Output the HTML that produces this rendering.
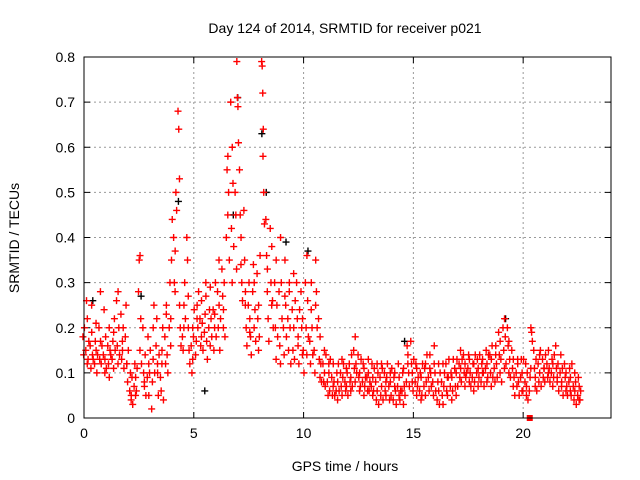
<!DOCTYPE html>
<html><head><meta charset="utf-8"><style>
body{margin:0;background:#fff}
svg{display:block;font-family:"Liberation Sans",sans-serif}
</style></head><body>
<svg id="chart" width="640" height="480" viewBox="0 0 640 480">
<rect width="640" height="480" fill="#fff"/>
<text x="345" y="33" font-size="14" text-anchor="middle">Day 124 of 2014, SRMTID for receiver p021</text>
<text transform="translate(19,238) rotate(-90)" font-size="14" text-anchor="middle">SRMTID / TECUs</text>
<text x="345" y="471" font-size="14" text-anchor="middle">GPS time / hours</text>
<g id="grid"></g>
<g id="ticks"></g>
<g id="marks"></g>
<rect x="84" y="57" width="527" height="361" fill="none" stroke="#000" stroke-width="1"/>
</svg>
<script>
const xTicks=[0,5,10,15,20];
const yTicks=[0,0.1,0.2,0.3,0.4,0.5,0.6,0.7,0.8];
const yTickLabels=["0","0.1","0.2","0.3","0.4","0.5","0.6","0.7","0.8"];
const tStart=0, tStep=0.1;
const redValues=[
[.18,.14,.2],[.15,.26,.12],[.22,.13,.17],[.16,.11,.25],[.19,.14,.13],[.12,.17,.21],[.15,.1,.14],[.2,.13,.28],[.17,.12,.16],[.14,.24,.1],
[.13,.18,.11],[.16,.12,.2],[.09,.15,.14],[.13,.17,.11],[.19,.22,.15],[.26,.16,.12],[.28,.2,.14],[.23,.13,.17],[.15,.2,.11],[.18,.25,.12],
[.12,.08,.15],[.06,.1,.04],[.05,.09,.03],[.07,.12,.05],[.09,.06,.11],[.28,.35,.15],[.36,.22,.12],[.2,.1,.08],[.07,.14,.05],[.09,.18,.12],
[.05,.1,.15],[.02,.08,.13],[.2,.25,.1],[.16,.22,.12],[.1,.05,.14],[.09,.06,.12],[.15,.2,.04],[.18,.12,.23],[.25,.14,.1],[.2,.3,.16],
[.22,.35,.44],[.4,.3,.28],[.37,.5,.46],[.68,.64,.53],[.25,.2,.16],[.18,.15,.2],[.25,.3,.22],[.4,.35,.27],[.2,.15,.12],[.16,.1,.13],
[.2,.18,.24],[.14,.17,.22],[.25,.2,.28],[.22,.16,.18],[.26,.21,.15],[.19,.23,.3],[.27,.17,.13],[.2,.24,.16],[.29,.22,.18],[.24,.15,.2],
[.23,.3,.18],[.28,.2,.35],[.25,.15,.22],[.33,.27,.2],[.24,.3,.18],[.4,.55,.45],[.58,.5,.35],[.7,.42,.3],[.6,.52,.38],[.5,.45,.33],
[.79,.71,.69,.61],[.55,.45,.34],[.4,.3,.26],[.46,.35,.25],[.28,.2,.16],[.25,.3,.19],[.22,.18,.14],[.28,.34,.2],[.3,.24,.17],[.32,.22,.15],
[.25,.18,.36],[.79,.78,.72,.64],[.58,.5,.43],[.44,.36,.28],[.33,.22,.17],[.42,.3,.25],[.38,.26,.2],[.3,.2,.13],[.35,.25,.18],[.28,.16,.12],
[.4,.3,.22],[.2,.14,.27],[.35,.25,.18],[.22,.15,.28],[.3,.2,.12],[.24,.15,.32],[.2,.13,.26],[.3,.22,.16],[.18,.12,.24],[.28,.2,.14],
[.22,.15,.1],[.3,.2,.14],[.36,.26,.18],[.17,.12,.24],[.3,.2,.14],[.15,.1,.25],[.35,.28,.2],[.22,.13,.09],[.18,.12,.08],[.12,.08,.15],
[.1,.07,.14],[.08,.05,.12],[.1,.06,.13],[.09,.05,.07],[.12,.08,.05],[.06,.1,.04],[.08,.12,.06],[.1,.07,.13],[.05,.09,.12],[.08,.06,.11],
[.07,.1,.05],[.12,.08,.06],[.09,.14,.07],[.15,.11,.08],[.18,.12,.1],[.14,.09,.06],[.1,.07,.13],[.08,.12,.05],[.11,.07,.09],[.09,.06,.13],
[.1,.06,.08],[.07,.12,.05],[.09,.06,.11],[.08,.04,.12],[.06,.1,.03],[.09,.05,.12],[.07,.11,.04],[.1,.06,.08],[.05,.09,.12],[.07,.04,.1],
[.08,.05,.11],[.04,.09,.07],[.1,.06,.03],[.07,.12,.05],[.09,.04,.06],[.06,.1,.03],[.11,.07,.05],[.08,.16,.12],[.14,.1,.07],[.17,.12,.08],
[.1,.06,.13],[.08,.12,.05],[.11,.07,.09],[.06,.1,.04],[.09,.05,.12],[.07,.11,.05],[.12,.08,.14],[.09,.06,.11],[.14,.1,.07],[.08,.05,.12],
[.16,.1,.06],[.04,.08,.12],[.06,.03,.1],[.08,.05,.12],[.03,.07,.1],[.12,.06,.09],[.05,.09,.13],[.07,.1,.04],[.09,.06,.13],[.11,.07,.05],
[.1,.13,.07],[.12,.09,.15],[.11,.08,.13],[.14,.1,.07],[.12,.09,.1],[.11,.14,.08],[.13,.1,.07],[.09,.12,.06],[.12,.08,.14],[.1,.13,.07],
[.11,.09,.14],[.08,.12,.1],[.13,.1,.07],[.11,.15,.08],[.12,.09,.14],[.14,.1,.07],[.13,.16,.09],[.11,.08,.14],[.16,.12,.09],[.19,.14,.1],
[.17,.13,.08],[.2,.15,.11],[.22,.18,.12],[.2,.16,.1],[.17,.13,.09],[.15,.11,.07],[.13,.09,.05],[.1,.07,.13],[.12,.08,.05],[.09,.13,.06],
[.1,.06,.13],[.08,.12,.05],[.07,.1,.04],[.06,.09,.11],[.2,.19,.17],[.15,.11,.07],[.09,.13,.06],[.12,.08,.14],[.1,.15,.07],[.13,.09,.11],
[.11,.08,.14],[.12,.09,.1],[.15,.11,.08],[.1,.13,.07],[.12,.09,.14],[.16,.11,.08],[.09,.12,.06],[.1,.14,.07],[.08,.11,.05],[.12,.09,.06],
[.1,.07,.05],[.08,.11,.06],[.09,.05,.12],[.07,.04,.1],[.06,.08,.03],[.05,.09,.04],[.07,.04,.06]
];
const blackTimes=[0.4,2.6,4.3,5.5,6.8,7.0,8.1,8.3,9.2,10.2,14.6,19.2];
const blackValues=[0.26,0.27,0.48,0.06,0.45,0.71,0.63,0.5,0.39,0.37,0.17,0.22];
const squareTimes=[20.3];
const squareValues=[0];

const X0=84,X1=611,Y0=418,Y1=57,XMAX=24,YMAX=0.8;
const sx=t=>X0+t/XMAX*(X1-X0);
const sy=v=>Y0-v/YMAX*(Y0-Y1);
const NS="http://www.w3.org/2000/svg";
const grid=document.getElementById('grid'),ticks=document.getElementById('ticks'),marks=document.getElementById('marks');
function mk(tag,attrs,parent){const e=document.createElementNS(NS,tag);for(const k in attrs)e.setAttribute(k,attrs[k]);parent.appendChild(e);return e;}
xTicks.forEach(t=>{
  const x=sx(t);
  if(t>0){const g=mk('line',{x1:x,x2:x,y1:Y1,y2:Y0,stroke:'#999','stroke-dasharray':'2,3'},grid);
  
  }
  mk('line',{x1:x,x2:x,y1:Y0,y2:Y0-6,stroke:'#000'},ticks);
  mk('line',{x1:x,x2:x,y1:Y1,y2:Y1+6,stroke:'#000'},ticks);
  const l=mk('text',{x:x,y:Y0+20,'font-size':14,'text-anchor':'middle'},ticks);l.textContent=t;
  
  
});
yTicks.forEach((v,i)=>{
  const y=sy(v);
  if(v>0&&v<YMAX){const g=mk('line',{x1:X0,x2:X1,y1:y,y2:y,stroke:'#999','stroke-dasharray':'2,3'},grid);
  
  }
  mk('line',{x1:X0,x2:X0+6,y1:y,y2:y,stroke:'#000'},ticks);
  mk('line',{x1:X1,x2:X1-6,y1:y,y2:y,stroke:'#000'},ticks);
  const l=mk('text',{x:X0-9,y:y+5,'font-size':14,'text-anchor':'end'},ticks);l.textContent=yTickLabels[i];
  
  
});
function plus(t,v,color,name){
  const x=sx(t),y=sy(v);
  const p=mk('path',{d:`M${x-3.5},${y}h7M${x},${y-3.5}v7`,stroke:color,'stroke-width':1.4,fill:'none'},marks);
  
  
}
blackValues.forEach((v,i)=>plus(blackTimes[i],v,'#000','black-point'));
redValues.forEach((arr,i)=>{const t=tStart+i*tStep;arr.forEach((v,j)=>plus(t+(j-1)*tStep/arr.length*1.0+((i%2)?0.015:-0.015),v,'#f00','red-point'));});
squareValues.forEach((v,i)=>{const r=mk('rect',{x:sx(squareTimes[i])-3,y:sy(v)-3,width:6,height:6,fill:'#f00'},marks);

});
</script>
</body></html>
